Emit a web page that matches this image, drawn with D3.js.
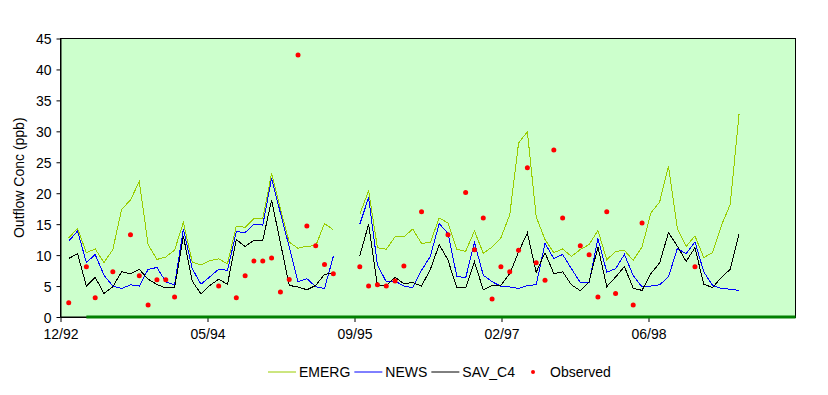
<!DOCTYPE html>
<html>
<head>
<meta charset="utf-8">
<script src="https://cdn.jsdelivr.net/npm/d3@7"></script>
<style>
  body { margin: 0; background: #fff; }
  text { font-family: "Liberation Sans", Arial, sans-serif; fill: #000; }
</style>
</head>
<body>
<svg id="chart" width="828" height="395"></svg>
<script>
// sample dates (about every 30 days), two samples missing in 08-09/95
let sampleDates = [
  "1993-01-25", "1993-02-24", "1993-03-26", "1993-04-25", "1993-05-25", "1993-06-24",
  "1993-07-24", "1993-08-23", "1993-09-22", "1993-10-22", "1993-11-21", "1993-12-21",
  "1994-01-20", "1994-02-19", "1994-03-21", "1994-04-20", "1994-05-20", "1994-06-19",
  "1994-07-19", "1994-08-18", "1994-09-17", "1994-10-17", "1994-11-16", "1994-12-16",
  "1995-01-15", "1995-02-14", "1995-03-16", "1995-04-15", "1995-05-15", "1995-06-14",
  "1995-07-14", "1995-08-13", "1995-09-12", "1995-10-12", "1995-11-11", "1995-12-11",
  "1996-01-10", "1996-02-09", "1996-03-10", "1996-04-09", "1996-05-09", "1996-06-08",
  "1996-07-08", "1996-08-07", "1996-09-06", "1996-10-06", "1996-11-05", "1996-12-05",
  "1997-01-04", "1997-02-03", "1997-03-05", "1997-04-04", "1997-05-04", "1997-06-03",
  "1997-07-03", "1997-08-02", "1997-09-01", "1997-10-01", "1997-10-31", "1997-11-30",
  "1997-12-30", "1998-01-29", "1998-02-28", "1998-03-30", "1998-04-29", "1998-05-29",
  "1998-06-28", "1998-07-28", "1998-08-27", "1998-09-26", "1998-10-26", "1998-11-25",
  "1998-12-25", "1999-01-24", "1999-02-23", "1999-03-25", "1999-04-24"
];

let emerg = [
  12.8, 14.3, 10.4, 11.0, 8.8, 10.9, 17.4, 18.9, 21.9, 11.7, 9.3, 9.7,
  10.8, 15.3, 8.9, 8.4, 9.1, 9.4, 8.6, 14.7, 14.5, 15.9, 15.9, 23.2,
  17.5, 12.1, 11.1, 11.45, 11.5, 15.1, 14.1, null, null, 16.6, 20.4, 11.2,
  10.95, 12.95, 12.95, 14.2, 11.9, 12.05, 16.0, 15.2, 10.95, 10.6, 13.9, 10.3,
  11.3, 12.8, 16.5, 28.1, 29.95, 16.2, 12.5, 10.4, 11.0, 9.8, 10.9, 11.7,
  14.0, 9.25, 10.6, 10.75, 9.15, 11.3, 16.8, 18.6, 24.4, 14.3, 11.4, 13.1,
  9.6, 10.4, 14.8, 18.2, 32.8
];

let news = [
  12.25, 13.9, 8.8, 10.1, 6.75, 5.0, 4.6, 5.2, 5.0, 7.7, 8.0, 5.7,
  5.2, 14.2, 7.8, 5.3, 6.5, 7.7, 7.55, 13.8, 13.65, 15.0, 14.85, 22.4,
  16.8, 11.3, 5.7, 6.2, 4.9, 4.6, 9.8, null, null, 15.0, 19.3, 8.4,
  5.7, 5.8, 5.0, 4.75, 7.55, 9.8, 15.1, 13.5, 6.6, 6.3, 12.05, 6.75,
  5.7, 4.97, 4.85, 4.6, 5.1, 5.2, 11.9, 9.45, 10.1, 7.8, 5.55, 5.55,
  12.7, 7.25, 7.8, 10.1, 6.7, 4.85, 5.0, 5.2, 6.5, 11.05, 10.25, 12.15,
  7.3, 5.1, 4.6, 4.5, 4.3
];

let savC4 = [
  9.45, 10.25, 5.0, 6.4, 3.8, 4.9, 7.3, 7.0, 7.7, 6.1, 5.25, 4.7,
  4.7, 13.05, 5.8, 3.7, 5.1, 6.1, 5.3, 12.5, 11.4, 12.4, 12.4, 18.9,
  12.0, 5.1, 4.85, 4.4, 5.1, 6.9, 7.1, null, null, 9.9, 15.0, 5.1,
  5.1, 6.4, 5.4, 5.55, 5.0, 7.7, 11.7, 9.2, 4.7, 4.7, 8.9, 4.4,
  5.1, 5.1, 7.0, 10.5, 13.6, 7.2, 10.4, 7.0, 7.3, 5.2, 4.25, 5.7,
  11.3, 4.9, 6.45, 8.15, 4.65, 4.3, 7.0, 8.75, 13.65, 11.45, 9.0, 11.2,
  5.3, 4.75, 6.4, 7.7, 13.4
];

let observed = [
  2.3, null, 8.1, 3.1, null, 7.3, null, 13.3, 6.65, 1.95, 6.0, 6.0,
  3.25, null, null, null, null, 5.0, null, 3.1, 6.65, 9.05, 9.05, 9.55,
  4.05, 6.05, 42.35, 14.7, 11.5, 8.5, 7.0, null, null, 8.1, 5.0, 5.2,
  5.0, 5.8, 8.25, null, 17.0, null, null, 13.3, null, 20.1, 10.85, 16.0,
  2.9, 8.1, 7.3, 10.8, 24.1, 8.75, 5.95, 27.0, 16.0, null, 11.5, 10.05,
  3.25, 17.0, 3.8, null, 1.95, 15.2, null, null, null, null, null, 8.1,
  null, null, null, null, null
];

let seriesNames = ["EMERG", "NEWS", "SAV_C4", "Observed"];
let seriesColors = ["#99CC00", "#0000FF", "#000000", "#FF0000"];

// date axis: 500 day steps
let axisStart = "1992-12-28";
let axisEnd = "1999-11-02";
let tickDates = ["1992-12-28", "1994-05-12", "1995-09-24", "1997-02-05", "1998-06-20"];
let yTicks = [0, 5, 10, 15, 20, 25, 30, 35, 40, 45];
let zeroLineStart = "1993-03-26";

let parse = d3.utcParse("%Y-%m-%d");

let plotLeft = 60.5, plotRight = 795.5, plotTop = 38.5, plotBottom = 317;

let svg = d3.select("#chart");

let x = d3.scaleUtc()
  .domain([parse(axisStart), parse(axisEnd)])
  .range([plotLeft, plotRight]);

let y = d3.scaleLinear()
  .domain([0, 45])
  .range([plotBottom, plotTop]);

// plot area
svg.append("rect")
  .attr("x", plotLeft)
  .attr("y", plotTop)
  .attr("width", plotRight - plotLeft)
  .attr("height", plotBottom - plotTop)
  .attr("fill", "#CCFFCC")
  .attr("stroke", "#000")
  .attr("stroke-width", 1);

// y axis
let yAxis = svg.append("g")
  .attr("transform", `translate(${plotLeft},0)`)
  .call(d3.axisLeft(y).tickValues(yTicks).tickSize(4).tickPadding(5).tickSizeOuter(0));
yAxis.select(".domain").attr("stroke", "#000");
yAxis.selectAll("text").style("font-size", "14px").attr("dy", "0.36em");

// x axis
let xAxis = svg.append("g")
  .attr("transform", `translate(0,${plotBottom})`)
  .call(d3.axisBottom(x)
    .tickValues(tickDates.map(parse))
    .tickFormat(d3.utcFormat("%m/%y"))
    .tickSize(5)
    .tickPadding(7)
    .tickSizeOuter(0));
xAxis.selectAll("text").style("font-size", "14px");

// thick green line along zero
svg.append("line")
  .attr("x1", x(parse(zeroLineStart)))
  .attr("x2", plotRight)
  .attr("y1", y(0))
  .attr("y2", y(0))
  .attr("stroke", "#008000")
  .attr("stroke-width", 3);

let dates = sampleDates.map(parse);

let makeLine = d3.line()
  .defined(d => d[1] != null)
  .x(d => x(d[0]))
  .y(d => y(d[1]));

[emerg, news, savC4].forEach((vals, i) => {
  svg.append("path")
    .datum(vals.map((v, j) => [dates[j], v]))
    .attr("d", makeLine)
    .attr("fill", "none")
    .attr("stroke", seriesColors[i])
    .attr("stroke-width", 1)
    .attr("shape-rendering", "crispEdges");
});

svg.append("g")
  .selectAll("circle")
  .data(observed.map((v, j) => [dates[j], v]).filter(d => d[1] != null))
  .enter()
  .append("circle")
  .attr("cx", d => x(d[0]))
  .attr("cy", d => y(d[1]))
  .attr("r", 2.5)
  .attr("fill", seriesColors[3]);

// y title
svg.append("text")
  .attr("transform", `translate(24,${(plotTop + plotBottom) / 2}) rotate(-90)`)
  .attr("text-anchor", "middle")
  .style("font-size", "14px")
  .text("Outflow Conc (ppb)");

// legend
let legend = svg.append("g").attr("transform", "translate(268,372)");
let lx = 0;
seriesNames.forEach((name, i) => {
  let g = legend.append("g").attr("transform", `translate(${lx},0)`);
  if (i < 3) {
    g.append("line")
      .attr("x1", 0).attr("x2", 28)
      .attr("y1", 0).attr("y2", 0)
      .attr("stroke", seriesColors[i]);
  } else {
    g.append("circle").attr("cx", 14).attr("cy", 0).attr("r", 2).attr("fill", seriesColors[i]);
  }
  let t = g.append("text")
    .attr("x", 31)
    .attr("y", 5)
    .style("font-size", "14px")
    .text(name);
  lx += 31 + t.node().getComputedTextLength() + 4;
});
</script>
</body>
</html>
